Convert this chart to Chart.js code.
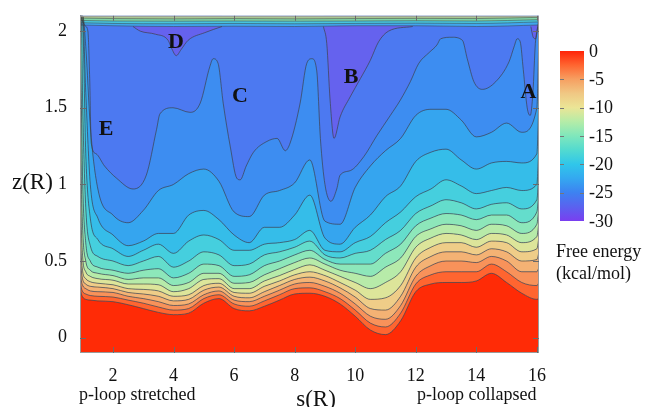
<!DOCTYPE html>
<html><head><meta charset="utf-8">
<script src="https://cdn.jsdelivr.net/npm/chart.js@4.4.1/dist/chart.umd.min.js"></script>
<style>html,body{margin:0;padding:0;background:#fff;overflow:hidden}#wrap{width:645px;height:407px}</style>
</head><body><div id="wrap"><canvas id="c" width="645" height="407"></canvas></div>
<script>
// ---- data ----
const sGrid = [0.91,0.95,1.0,1.1,1.25,1.5,2,2.5,3,3.5,4,4.5,5,5.5,6,6.5,7,7.5,8,8.5,9,9.5,10,10.5,11,11.5,12,12.5,13,13.5,14,14.5,15,15.5,16,16.07];
const levels = [-2,-4,-6,-8,-10,-12,-14,-16,-18,-20,-22,-24,-26];
const zL2  = [.34,.29,.265,.25,.245,.24,.235,.215,.19,.165,.15,.16,.225,.255,.19,.175,.205,.245,.285,.29,.27,.22,.14,.05,.02,.11,.30,.35,.36,.36,.37,.42,.36,.29,.25,.26];
const zL4  = [.40,.33,.30,.285,.275,.27,.265,.245,.225,.20,.18,.19,.255,.28,.22,.205,.24,.28,.32,.325,.30,.255,.18,.095,.07,.16,.35,.41,.43,.43,.43,.48,.43,.36,.34,.36];
const zL6  = [.48,.38,.34,.32,.305,.30,.295,.27,.255,.235,.21,.22,.28,.305,.245,.235,.27,.31,.35,.36,.335,.29,.22,.14,.12,.21,.40,.47,.50,.50,.49,.53,.50,.43,.43,.46];
const zL8  = [.60,.45,.38,.35,.335,.33,.32,.295,.285,.27,.24,.25,.31,.33,.27,.26,.30,.34,.38,.395,.37,.325,.265,.19,.18,.27,.46,.53,.56,.56,.54,.58,.56,.50,.51,.56];
const zL10 = [.80,.55,.43,.385,.365,.355,.345,.32,.315,.305,.27,.28,.34,.355,.295,.29,.335,.37,.41,.43,.405,.36,.31,.25,.26,.34,.52,.59,.62,.62,.59,.63,.62,.56,.58,.66];
const zL12 = [1.2,.75,.52,.43,.40,.385,.375,.35,.35,.345,.30,.32,.38,.385,.32,.32,.37,.405,.445,.475,.44,.40,.36,.32,.36,.43,.59,.65,.68,.67,.64,.68,.67,.62,.66,.76];
const zL14 = [2.1,1.1,.70,.50,.44,.42,.405,.38,.39,.39,.34,.36,.42,.42,.355,.36,.41,.45,.49,.52,.48,.44,.42,.40,.46,.52,.66,.71,.74,.73,.70,.74,.73,.68,.74,.86];
const zL16 = [2.1,1.6,1.0,.62,.50,.46,.44,.42,.44,.45,.39,.42,.48,.47,.40,.41,.47,.50,.54,.57,.51,.48,.48,.48,.55,.61,.73,.78,.81,.80,.77,.80,.80,.75,.82,.97];
const zL18 = [2.1,2.1,1.5,.85,.60,.53,.50,.47,.50,.53,.46,.50,.56,.54,.47,.48,.54,.56,.59,.63,.54,.52,.55,.57,.64,.70,.81,.86,.90,.88,.84,.87,.88,.84,.90,1.1];
const zL20 = [2.1,2.1,2.05,1.2,.78,.64,.58,.53,.57,.61,.55,.63,.67,.64,.57,.57,.61,.62,.64,.70,.57,.56,.62,.66,.75,.82,.92,.97,1.03,.99,.94,.96,.98,.96,1.0,1.3];
const zL22 = [2.1,2.1,2.1,1.6,1.0,.78,.67,.60,.63,.68,.68,.80,.83,.77,.67,.62,.72,.72,.80,.93,.65,.61,.72,.80,.92,.99,1.15,1.21,1.23,1.16,1.10,1.14,1.15,1.14,1.2,1.6];
const zL24 = [2.1,2.1,2.1,1.9,1.38,.97,.80,.75,.83,.96,1.0,1.07,1.10,1.02,.82,.79,.93,.96,1.01,1.16,.76,.74,.98,1.12,1.22,1.30,1.45,1.49,1.49,1.42,1.31,1.34,1.40,1.34,1.5,2.0];
const sL26 = [0.91,1.1,1.17,1.23,1.28,1.44,1.72,2.12,2.66,3.1,3.44,3.55,3.98,4.55,4.88,5.2,5.31,5.47,5.64,5.87,6.09,6.2,6.4,6.64,7.08,7.42,7.69,7.85,8.18,8.4,8.57,8.73,8.85,9.0,9.2,9.39,9.5,9.84,10.28,10.72,11.16,11.49,11.82,12.1,12.44,12.7,12.82,13.2,13.54,13.7,13.92,14.2,14.64,15.08,15.25,15.35,15.45,15.55,15.68,15.78,15.87,15.95,16.02,16.07];
const zL26 = [2.1,2.03,2.0,1.69,1.27,1.2,1.12,1.04,0.97,1.06,1.36,1.46,1.5,1.47,1.53,1.77,1.82,1.79,1.53,1.25,1.04,1.03,1.12,1.21,1.28,1.3,1.22,1.27,1.53,1.79,1.82,1.74,1.3,1.0,0.89,0.97,1.06,1.09,1.18,1.32,1.45,1.55,1.67,1.79,1.86,1.91,1.95,1.96,1.94,1.82,1.67,1.62,1.67,1.8,1.9,1.95,1.93,1.75,1.5,1.45,1.6,1.92,2.02,2.1];
// deepest basins (-28 contour)
const sBasinD = [2.66,2.9,3.4,3.82,3.93,4.09,4.25,4.48,5.03,5.6];
const zBasinD = [2.03,2.0,1.98,1.94,1.89,1.84,1.88,1.94,1.99,2.03];
const sBasinB = [8.95,9.06,9.17,9.3,9.5,9.83,10.17,10.5,10.77,11.1,11.9];
const zBasinB = [2.03,1.92,1.55,1.30,1.44,1.57,1.69,1.81,1.93,2.0,2.03];
const sBasinA = [15.8,15.88,15.96,16.03];
const zBasinA = [2.03,1.96,1.95,2.03];
// contours crowding along the upper border
const sTop = [0.91,2,4,6,8,10,12,14,16.07];
const zTopA = [2.04,2.035,2.03,2.032,2.03,2.035,2.035,2.03,2.04];
const zTopB = [2.055,2.05,2.048,2.05,2.048,2.05,2.052,2.05,2.06];
const zTopC = [2.07,2.066,2.065,2.066,2.065,2.066,2.068,2.066,2.075];
const zTopD = [2.085,2.082,2.08,2.082,2.08,2.082,2.083,2.082,2.09];
const xTicks = [2,4,6,8,10,12,14,16];
const yTicks = [0,0.5,1,1.5,2];
const cbarTicks = [0,-5,-10,-15,-20,-25,-30];
const basinNames = ['A','B','C','D','E'];
const basinNameS = [15.72,9.86,6.19,4.08,1.77];
const basinNameZ = [1.60,1.70,1.575,1.925,1.36];

// ---- styles ----
const SERIF = "'Liberation Serif','Times New Roman',serif";
const bandColors = ['#ff2b06','#ff6530','#f8925a','#f4b274','#efcd88','#dde59a','#b7eba9','#8de7ba','#64ddcc','#45cfde','#35bde9','#35a5ef','#3d8df1'];
const deepColor = '#4c79f1';
const basinColor = '#6562ee';
const topColors = ['#3fa6ee','#48c4dc','#80d4a8','#aac692'];
const lineColor = 'rgba(60,60,60,0.8)';
const cbarStops = [[0,'#ff2408'],[0.083,'#ff6530'],[0.167,'#f6a062'],[0.25,'#f0c884'],[0.333,'#ebe596'],[0.417,'#b4eca8'],[0.5,'#7fe7bc'],[0.583,'#52dad0'],[0.667,'#30c6ea'],[0.75,'#34a8f0'],[0.833,'#3d82f1'],[0.917,'#5a62ef'],[1,'#7a3ef0']];

const pts = (xs, ys) => xs.map((x, i) => ({x, y: ys[i]}));
const lower = [zL2,zL4,zL6,zL8,zL10,zL12,zL14,zL16,zL18,zL20,zL22,zL24];
const base = {borderColor: lineColor, borderWidth: 0.8, pointRadius: 0, cubicInterpolationMode: 'monotone'};
const datasets = lower.map((arr, i) => Object.assign({}, base, {
  label: 'G = ' + levels[i], data: pts(sGrid, arr),
  fill: i === 0 ? 'start' : '-1', backgroundColor: bandColors[i], order: 40 - i
}));
datasets.push(Object.assign({}, base, {label: 'G = -26', data: pts(sL26, zL26), fill: '-1', backgroundColor: bandColors[12], order: 20}));
[[sBasinD,zBasinD],[sBasinB,zBasinB],[sBasinA,zBasinA]].forEach(([s,z], i) => datasets.push(Object.assign({}, base, {
  label: 'G = -28 ' + i, data: pts(s, z), fill: 'end', backgroundColor: basinColor, order: 10
})));
[zTopA,zTopB,zTopC,zTopD].forEach((z, i) => datasets.push(Object.assign({}, base, {
  label: 'edge ' + i, data: pts(sTop, z), fill: 'end', backgroundColor: topColors[i], order: 5 - i, borderWidth: 0.6
})));

const overlay = {
  id: 'overlay',
  beforeDraw(chart) {
    const {ctx, chartArea: a} = chart;
    ctx.save();
    ctx.fillStyle = '#fff'; ctx.fillRect(0, 0, chart.width, chart.height);
    ctx.fillStyle = deepColor; ctx.fillRect(a.left, a.top, a.right - a.left, a.bottom - a.top);
    ctx.restore();
  },
  afterDatasetsDraw(chart) {
    const {ctx, chartArea: a, scales: {x, y}} = chart;
    ctx.save();
    ctx.strokeStyle = '#9a9a9a'; ctx.lineWidth = 1;
    ctx.strokeRect(a.left + 0.5, a.top + 0.5, a.right - a.left - 1, a.bottom - a.top - 1);
    ctx.strokeStyle = '#6a6a6a';
    ctx.beginPath();
    xTicks.forEach(v => { const px = Math.round(x.getPixelForValue(v)) + 0.5;
      ctx.moveTo(px, a.bottom); ctx.lineTo(px, a.bottom - 6); ctx.moveTo(px, a.top); ctx.lineTo(px, a.top + 5); });
    yTicks.forEach(v => { const py = Math.round(y.getPixelForValue(v)) + 0.5;
      ctx.moveTo(a.left, py); ctx.lineTo(a.left + 6, py); ctx.moveTo(a.right, py); ctx.lineTo(a.right - 6, py); });
    ctx.stroke();
    ctx.fillStyle = '#111'; ctx.font = 'bold 22px ' + SERIF; ctx.textAlign = 'center'; ctx.textBaseline = 'middle';
    basinNames.forEach((t, i) => ctx.fillText(t, x.getPixelForValue(basinNameS[i]), y.getPixelForValue(basinNameZ[i])));
    ctx.restore();
  },
  afterDraw(chart) {
    const ctx = chart.ctx;
    ctx.save();
    const L = 560, R = 584, T = 51, B = 221;
    const g = ctx.createLinearGradient(0, T, 0, B);
    cbarStops.forEach(([p, c]) => g.addColorStop(p, c));
    ctx.fillStyle = g; ctx.fillRect(L, T, R - L, B - T);
    ctx.strokeStyle = '#777'; ctx.lineWidth = 1;
    ctx.beginPath();
    cbarTicks.forEach(v => { const py = Math.round(T + (-v / 30) * (B - T)) + 0.5;
      if (v !== 0 && v !== -30) { ctx.moveTo(L, py); ctx.lineTo(L + 4, py); ctx.moveTo(R, py); ctx.lineTo(R - 4, py); } });
    ctx.stroke();
    ctx.fillStyle = '#111'; ctx.font = '18px ' + SERIF; ctx.textAlign = 'left'; ctx.textBaseline = 'middle';
    cbarTicks.forEach(v => ctx.fillText(String(v), 589, T + (-v / 30) * (B - T) + 1));
    ctx.textBaseline = 'alphabetic';
    ctx.fillText('Free energy', 556, 257);
    ctx.fillText('(kcal/mol)', 556, 279);
    ctx.fillText('p-loop stretched', 79, 400);
    ctx.fillText('p-loop collapsed', 417, 400);
    ctx.font = '23px ' + SERIF;
    ctx.fillText('z(R)', 12, 189);
    ctx.textAlign = 'center';
    ctx.fillText('s(R)', 316, 406);
    ctx.restore();
  }
};

new Chart(document.getElementById('c'), {
  type: 'line',
  data: {datasets},
  options: {
    responsive: false, animation: false, devicePixelRatio: 1, events: [],
    layout: {padding: {left: 0, right: 106, top: 11, bottom: 0}},
    plugins: {legend: {display: false}, tooltip: {enabled: false}, filler: {drawTime: 'beforeDatasetsDraw'}},
    scales: {
      x: {type: 'linear', min: 0.91, max: 16.07,
          afterBuildTicks: sc => { sc.ticks = xTicks.map(v => ({value: v})); },
          afterFit: sc => { sc.height = 54; },
          grid: {display: false}, border: {display: false},
          ticks: {font: {family: SERIF, size: 18}, color: '#111', padding: 4, maxRotation: 0, autoSkip: false, callback: v => String(v)}},
      y: {type: 'linear', min: -0.1, max: 2.1,
          afterBuildTicks: sc => { sc.ticks = yTicks.map(v => ({value: v})); },
          afterFit: sc => { sc.width = 80; },
          grid: {display: false}, border: {display: false},
          ticks: {font: {family: SERIF, size: 18}, color: '#111', padding: 5, autoSkip: false, callback: v => String(v)}}
    }
  },
  plugins: [overlay]
});
</script></body></html>
